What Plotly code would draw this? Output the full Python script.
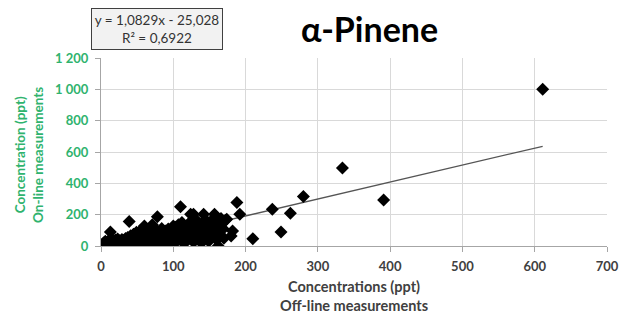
import plotly.graph_objects as go

# Off-line (x) vs on-line (y) concentrations, ppt
off_line = [1, 2, 3, 4, 5, 6, 7, 8, 9, 10, 11, 12, 13, 14, 15, 16, 17, 18, 19, 20, 21, 22, 23, 24, 25, 26, 27, 28, 29, 30, 31, 32, 33, 34, 35, 36,
            37, 38, 40, 41, 42, 44, 45, 46, 48, 49, 50, 52, 53, 54, 56, 57, 58, 60, 61, 62, 64, 65, 66, 68, 69, 70, 72, 73, 74, 76, 77, 78, 80, 81, 82, 84, 85, 86, 88, 89, 90, 92, 93, 94, 96, 97,
            98, 100, 101, 103, 104, 106, 107, 109, 110, 112, 113, 115, 116, 118, 119, 121, 122, 124, 125, 127, 128, 130, 131, 133, 134, 136, 137, 139, 140, 142, 143, 145, 146, 148, 149, 151, 152, 154, 155, 157, 158, 160, 161, 163, 164, 166, 167, 169, 170, 172, 174,
            13, 39, 60, 71, 78, 100, 110, 124, 128, 142, 157, 182, 180, 188, 192, 210, 162, 237, 249, 262, 280, 334, 391, 611]
on_line = [3, 12, 1, 20, 8, 30, 4, 15, 25, 2, 35, 10, 18, 5, 40, 22, 12, 28, 2, 38, 15, 8, 45, 25, 4, 33, 18, 10, 42, 26, 6, 36, 14, 48, 22, 3,
           55, 30, 12, 65, 40, 5, 75, 50, 20, 88, 35, 8, 60, 95, 25, 70, 12, 100, 45, 15, 80, 30, 105, 55, 5, 90, 40, 110, 18, 65, 100, 28, 85, 50, 8, 112, 38, 70, 15, 95, 55, 25, 108, 45, 75, 10,
           110, 60, 20, 120, 90, 35, 135, 110, 50, 150, 75, 15, 115, 95, 40, 140, 120, 60, 160, 85, 25, 130, 110, 45, 155, 130, 70, 20, 145, 100, 55, 165, 140, 80, 30, 150, 120, 65, 170, 150, 95, 40, 160, 135, 75, 175, 140, 110, 50, 165, 171,
           90, 156, 128, 135, 186, 128, 250, 203, 203, 203, 203, 96, 64, 278, 203, 47, 0, 235, 90, 209, 316, 498, 293, 1000]

slope = 1.0829
intercept = -25.028
trend_x = [min(off_line), max(off_line)]
trend_y = [slope * v + intercept for v in trend_x]

y_tickvals = [0, 200, 400, 600, 800, 1000, 1200]
y_ticktext = ["0", "200", "400", "600", "800", "1 000", "1 200"]
x_tickvals = [0, 100, 200, 300, 400, 500, 600, 700]

GREEN = "#2FB36E"
DARK = "#404040"
FONT = "Lato"

fig = go.Figure()
fig.add_trace(go.Scatter(x=trend_x, y=trend_y, mode="lines",
                         line=dict(color="#555555", width=1.3), hoverinfo="skip"))
fig.add_trace(go.Scatter(x=off_line, y=on_line, mode="markers",
                         marker=dict(symbol="diamond", size=10, color="black")))

W, H = 621, 316
PL, PR, PT, PB = 101, 607, 58, 246   # plot-area edges in pixels
PW, PH = PR - PL, PB - PT
fig.update_layout(
    width=W, height=H,
    margin=dict(l=PL, r=W - PR, t=PT, b=H - PB),
    paper_bgcolor="white", plot_bgcolor="white",
    showlegend=False,
    font=dict(family=FONT),
    xaxis=dict(range=[0, 700], tickvals=x_tickvals, showgrid=True, gridcolor="#d9d9d9", gridwidth=1,
               showline=True, linecolor="#a6a6a6", linewidth=1, ticks="outside", ticklen=5, tickcolor="#a6a6a6",
               ticklabelstandoff=3,
               tickfont=dict(family=FONT, size=13, color=DARK, weight="bold"), zeroline=False, automargin=False),
    yaxis=dict(range=[0, 1200], tickvals=y_tickvals, ticktext=y_ticktext, showgrid=True, gridcolor="#d9d9d9", gridwidth=1,
               showline=True, linecolor="#a6a6a6", linewidth=1, ticks="outside", ticklen=5, tickcolor="#a6a6a6",
               ticklabelstandoff=4,
               tickfont=dict(family=FONT, size=13, color=GREEN, weight="bold"), zeroline=False, automargin=False),
    annotations=[
        dict(text="<b>α-Pinene</b>", xref="paper", yref="paper", x=(369 - PL) / PW, y=(PB - 28) / PH,
             showarrow=False, font=dict(family=FONT, size=34, color="black"), xanchor="center", yanchor="middle"),
        dict(text="y = 1,0829x - 25,028<br>R² = 0,6922", xref="paper", yref="paper",
             x=(157 - PL) / PW, y=(PB - 29) / PH, showarrow=False, xanchor="center", yanchor="middle",
             font=dict(family=FONT, size=13.5, color="#333333"), bgcolor="#f2f2f2", bordercolor="#404040",
             borderwidth=1, borderpad=2, width=126, height=36, align="center"),
        dict(text="<b>Concentration (ppt)<br>On-line measurements</b>", xref="paper", yref="paper",
             x=0, y=(PB - 155) / PH, xshift=29 - PL, textangle=-90, showarrow=False, xanchor="center", yanchor="middle",
             font=dict(family=FONT, size=13.5, color=GREEN), align="center"),
        dict(text="<b>Concentrations (ppt)<br>Off-line measurements</b>", xref="paper", yref="paper",
             x=0.5, y=0, yshift=-29.5, showarrow=False, xanchor="center", yanchor="top",
             font=dict(family=FONT, size=14.5, color=DARK), align="center"),
    ],
)

# remove the browser's default 8px body margin so the figure fills the window exactly
fig.write_html("out.html", config={"displayModeBar": False},
               post_script="document.body.style.margin='0';")
